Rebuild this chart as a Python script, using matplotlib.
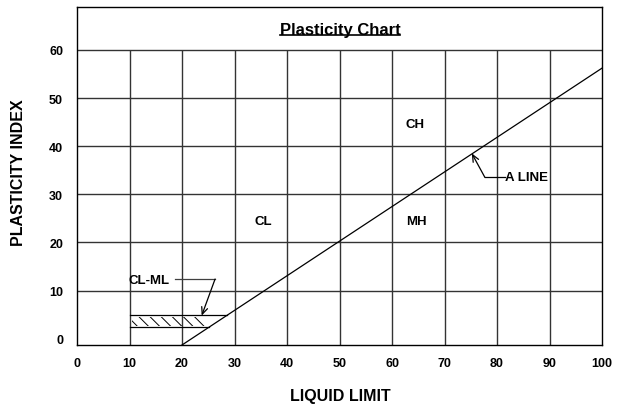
import matplotlib
matplotlib.use('Agg')
import matplotlib.pyplot as plt
from matplotlib.lines import Line2D

plt.rcParams['font.family'] = ['Liberation Sans', 'DejaVu Sans']
plt.rcParams['font.weight'] = 'bold'
plt.rcParams['hatch.linewidth'] = 0.7

# axis ticks
x_ticks = [0, 10, 20, 30, 40, 50, 60, 70, 80, 90, 100]
y_ticks = [0, 10, 20, 30, 40, 50, 60]

# A line
a_line_x = [20, 100]
a_line_y = [-1.3, 56.2]

# CL-ML band
band_x_left = 10
band_top_y = 4.9
band_top_x_end = 28.6
band_bot_y = 2.5
band_bot_x_end = 25.2
hatch_x = [10.4, 24.4]
hatch_y = [2.7, 4.55]

# zone labels
zone_names = ['CH', 'CL', 'MH']
zone_x = [64.4, 35.4, 64.6]
zone_y = [44.6, 24.5, 24.5]

# annotations (text pos, bend, arrow head)
clml_text = (9.9, 12.1)
clml_leader = [(18.7, 12.4), (26.3, 12.4)]
clml_head = (23.75, 4.8)
aline_text = (81.5, 33.5)
aline_leader = [(81.5, 33.5), (77.7, 33.5)]
aline_head = (75.2, 38.5)

fig = plt.figure(figsize=(6.18, 4.06), dpi=100)
ax = fig.add_axes([77 / 618, 60 / 406, 525 / 618, 338 / 406])
ax.set_xlim(0, 100)
ax.set_ylim(-1.3, 68.9)

# grid stops at 60, title band above is left open
ax.vlines(x_ticks[1:-1], -1.3, y_ticks[-1], color='0.2', lw=1.0, zorder=1)
for y in y_ticks[1:]:
    ax.axhline(y, color='0.2', lw=1.0, zorder=1)

for s in ax.spines.values():
    s.set_color('black')
    s.set_linewidth(1.0)

ax.set_xticks(x_ticks)
ax.set_yticks(y_ticks)
ax.tick_params(length=0, labelsize=9)
ax.tick_params(axis='x', pad=9)
ax.tick_params(axis='y', pad=10)
for lab in ax.get_xticklabels() + ax.get_yticklabels():
    lab.set_fontweight('bold')

# A line
ax.plot(a_line_x, a_line_y, color='black', lw=0.9, zorder=3)

# CL-ML band
ax.plot([band_x_left, band_top_x_end], [band_top_y, band_top_y], color='black', lw=0.9, zorder=3)
ax.plot([band_x_left, band_bot_x_end], [band_bot_y, band_bot_y], color='black', lw=0.9, zorder=3)
ax.fill_between(hatch_x, hatch_y[0], hatch_y[1], facecolor='none', edgecolor='black',
                hatch='\\\\\\', linewidth=0, zorder=2)

for name, zx, zy in zip(zone_names, zone_x, zone_y):
    ax.text(zx, zy, name, ha='center', va='center', fontsize=9.5, fontweight='bold')

# CL-ML leader
ax.text(clml_text[0], clml_text[1], 'CL-ML', ha='left', va='center', fontsize=9.5,
        fontweight='bold', zorder=4)
ax.plot([p[0] for p in clml_leader], [p[1] for p in clml_leader], color='0.25', lw=0.9)
ax.annotate('', xy=clml_head, xytext=clml_leader[1],
            arrowprops=dict(arrowstyle='->,head_length=0.5,head_width=0.22', color='black',
                            lw=0.9, shrinkA=0, shrinkB=0))

# A LINE leader
ax.text(aline_text[0], aline_text[1], 'A LINE', ha='left', va='center', fontsize=9.5,
        fontweight='bold', zorder=4)
ax.plot([p[0] for p in aline_leader], [p[1] for p in aline_leader], color='black', lw=0.9)
ax.annotate('', xy=aline_head, xytext=aline_leader[1],
            arrowprops=dict(arrowstyle='->,head_length=0.5,head_width=0.22', color='black',
                            lw=0.9, shrinkA=0, shrinkB=0))

# title with underline
title = fig.text(340 / 618, 1 - 30 / 406, 'Plasticity Chart', ha='center', va='center',
                 fontsize=12, fontweight='bold')
fig.canvas.draw()
bb = title.get_window_extent(fig.canvas.get_renderer())
uy = (bb.y0 + 1.5) / 406
fig.add_artist(Line2D([bb.x0 / 618, bb.x1 / 618], [uy, uy], color='black', lw=1.2,
                      transform=fig.transFigure))

fig.text(340 / 618, 1 - 397 / 406, 'LIQUID LIMIT', ha='center', va='center',
         fontsize=11.5, fontweight='bold')
fig.text(19 / 618, 1 - 173 / 406, 'PLASTICITY INDEX', ha='center', va='center',
         rotation=90, fontsize=11.5, fontweight='bold')

fig.savefig('out.png', dpi=100)
